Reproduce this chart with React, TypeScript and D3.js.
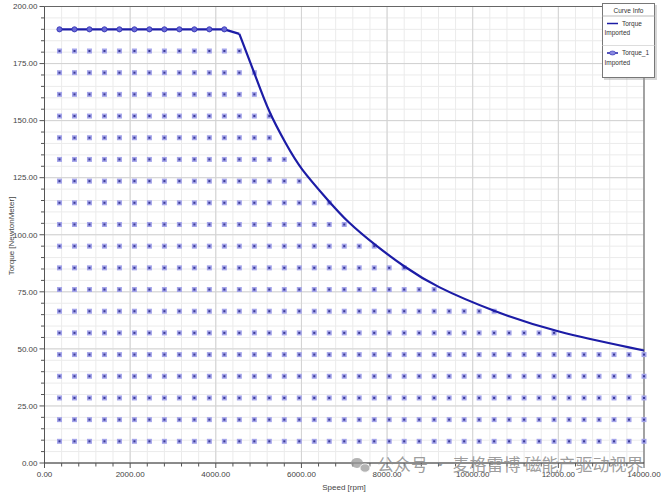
import React from "react";
import * as d3 from "d3";

// Torque curve (line series "Torque"): constant-torque part, then field-weakening part
const flatSpeed = [350, 4200, 4550];
const flatTorque = [190, 190, 188];
const curveSpeed = [4550, 4900, 5250, 5650, 5950, 6650, 7050, 7750, 8400, 9100, 10500, 11900, 14000];
const curveTorque = [188, 171, 153, 139.5, 129.5, 114.5, 106, 95, 86, 77.5, 66.3, 57.5, 49.3];

// Operating-point grid (series "Torque_1")
const gridSpeeds = d3.range(1, 41).map((i) => i * 350);
const gridTorques = [190, 180.5, 171, 161.5, 152, 142.5, 133, 123.5, 114, 104.5, 95, 85.5, 76, 66.5, 57, 47.5, 38, 28.5, 19, 9.5];
const rowCounts = [12, 13, 14, 14, 15, 15, 16, 17, 19, 20, 22, 24, 26, 30, 34, 40, 40, 40, 40, 40];

const yMajorTicks = [0, 25, 50, 75, 100, 125, 150, 175, 200];
const xMajorTicks = [0, 2000, 4000, 6000, 8000, 10000, 12000, 14000];

const W = 667;
const H = 492;
const L = 44.5, R = 644, T = 6.5, B = 463;

export default function App() {
  const x = d3.scaleLinear().domain([0, 14000]).range([L, R]);
  const y = d3.scaleLinear().domain([0, 200]).range([B, T]);
  const xMinor = d3.range(0, 14001, 400);
  const yMinor = d3.range(0, 201, 5);
  const flatLine = d3
    .line<number>()
    .x((_, i) => x(flatSpeed[i]))
    .y((d) => y(d));
  const curveLine = d3
    .line<number>()
    .x((_, i) => x(curveSpeed[i]))
    .y((d) => y(d))
    .curve(d3.curveBasis);
  const font = "'Liberation Sans', Arial, sans-serif";
  const points: { s: number; t: number; top: boolean }[] = [];
  gridTorques.forEach((t, r) => {
    for (let i = 0; i < rowCounts[r]; i++) points.push({ s: gridSpeeds[i], t, top: r === 0 });
  });
  return (
    <svg width={W} height={H} style={{ position: "absolute", left: 0, top: 0, background: "#fff" }} fontFamily={font}>
      <rect x={0} y={0} width={W} height={H} fill="#fff" />
      {/* minor grid */}
      {xMinor.map((v) => (
        <line key={"xm" + v} x1={x(v)} x2={x(v)} y1={T} y2={B} stroke="#ebebeb" strokeWidth={1} />
      ))}
      {yMinor.map((v) => (
        <line key={"ym" + v} x1={L} x2={R} y1={y(v)} y2={y(v)} stroke="#ebebeb" strokeWidth={1} />
      ))}
      {/* major grid */}
      {xMajorTicks.map((v) => (
        <line key={"xg" + v} x1={x(v)} x2={x(v)} y1={T} y2={B} stroke="#d2d2d2" strokeWidth={1} />
      ))}
      {yMajorTicks.map((v) => (
        <line key={"yg" + v} x1={L} x2={R} y1={y(v)} y2={y(v)} stroke="#d2d2d2" strokeWidth={1} />
      ))}
      {/* frame */}
      <line x1={L} x2={R} y1={T} y2={T} stroke="#666" strokeWidth={1} />
      <line x1={R} x2={R} y1={T} y2={B} stroke="#777" strokeWidth={1.2} />
      <line x1={L} x2={L} y1={T} y2={B} stroke="#555" strokeWidth={1} />
      <line x1={L} x2={R} y1={B} y2={B} stroke="#333" strokeWidth={1.2} />
      {/* ticks */}
      {yMinor.map((v) => (
        <line key={"yt" + v} x1={L - (v % 25 === 0 ? 5 : 3.5)} x2={L} y1={y(v)} y2={y(v)} stroke="#555" />
      ))}
      {xMinor.map((v) => (
        <line key={"xt" + v} x1={x(v)} x2={x(v)} y1={B} y2={B + (v % 2000 === 0 ? 5 : 3.5)} stroke="#555" />
      ))}
      {yMajorTicks.map((v) => (
        <text key={"yl" + v} x={37.5} y={y(v)} dy="0.35em" textAnchor="end" fontSize={8} fill="#444">
          {v.toFixed(2)}
        </text>
      ))}
      {xMajorTicks.map((v) => (
        <text key={"xl" + v} x={x(v)} y={474} dy="0.35em" textAnchor="middle" fontSize={8} fill="#444">
          {v.toFixed(2)}
        </text>
      ))}
      <text x={344} y={487} dy="0.35em" textAnchor="middle" fontSize={8} fill="#444">
        Speed [rpm]
      </text>
      <text transform="translate(11,236) rotate(-90)" dy="0.35em" textAnchor="middle" fontSize={8} fill="#444">
        Torque [NewtonMeter]
      </text>
      {/* grid points */}
      {points.filter((p) => !p.top).map((p, i) => (
        <g key={"p" + i}>
          <rect x={x(p.s) - 2.5} y={y(p.t) - 2.5} width={5} height={5} fill="#a4a4ea" />
          <rect x={x(p.s) - 1} y={y(p.t) - 1} width={2} height={2} fill="#3a3a96" />
        </g>
      ))}
      {/* torque curve */}
      <path d={flatLine(flatTorque) || ""} fill="none" stroke="#1c1ca6" strokeWidth={2.2} strokeLinejoin="round" />
      <path d={curveLine(curveTorque) || ""} fill="none" stroke="#1c1ca6" strokeWidth={2.2} />
      {points.filter((p) => p.top).map((p, i) => (
        <circle key={"c" + i} cx={x(p.s)} cy={y(p.t)} r={2.6} fill="#6a6ad8" stroke="#2a2ab0" strokeWidth={0.8} />
      ))}
      {/* legend */}
      <rect x={604} y={5} width={53} height={75} fill="#999" opacity={0.4} />
      <rect x={602.5} y={3.5} width={52} height={74} fill="#fff" stroke="#777" />
      <text x={628.5} y={10.5} dy="0.35em" textAnchor="middle" fontSize={6.5} fill="#333">
        Curve Info
      </text>
      <line x1={602.5} x2={654.5} y1={16} y2={16} stroke="#bbb" />
      <line x1={607} x2={618} y1={23.5} y2={23.5} stroke="#1c1ca6" strokeWidth={1.5} />
      <text x={622} y={23.5} dy="0.35em" fontSize={6.5} fill="#333">Torque</text>
      <text x={604.5} y={32.5} dy="0.35em" fontSize={6.5} fill="#333">Imported</text>
      <line x1={602.5} x2={654.5} y1={45.5} y2={45.5} stroke="#ddd" />
      <line x1={607} x2={618} y1={53} y2={53} stroke="#1c1ca6" strokeWidth={1.5} />
      <ellipse cx={612.5} cy={53} rx={3} ry={2} fill="#8a8ae0" stroke="#2a2ab0" strokeWidth={0.6} />
      <text x={622} y={53} dy="0.35em" fontSize={6.5} fill="#333">Torque_1</text>
      <text x={604.5} y={62.5} dy="0.35em" fontSize={6.5} fill="#333">Imported</text>
      {/* watermark */}
      <g opacity={0.75}>
        <ellipse cx={357} cy={463} rx={6} ry={5} fill="#9a9a9a" />
        <ellipse cx={365} cy={468} rx={5} ry={4.2} fill="#9a9a9a" stroke="#fff" strokeWidth={0.8} />
      </g>
      <text x={377} y={471} fontSize={17} fill="#8c8c8c" fillOpacity={0.85} fontFamily="'Noto Sans CJK SC', sans-serif">
        公众号 · 麦格雷博 磁能产驱动视界
      </text>
    </svg>
  );
}
